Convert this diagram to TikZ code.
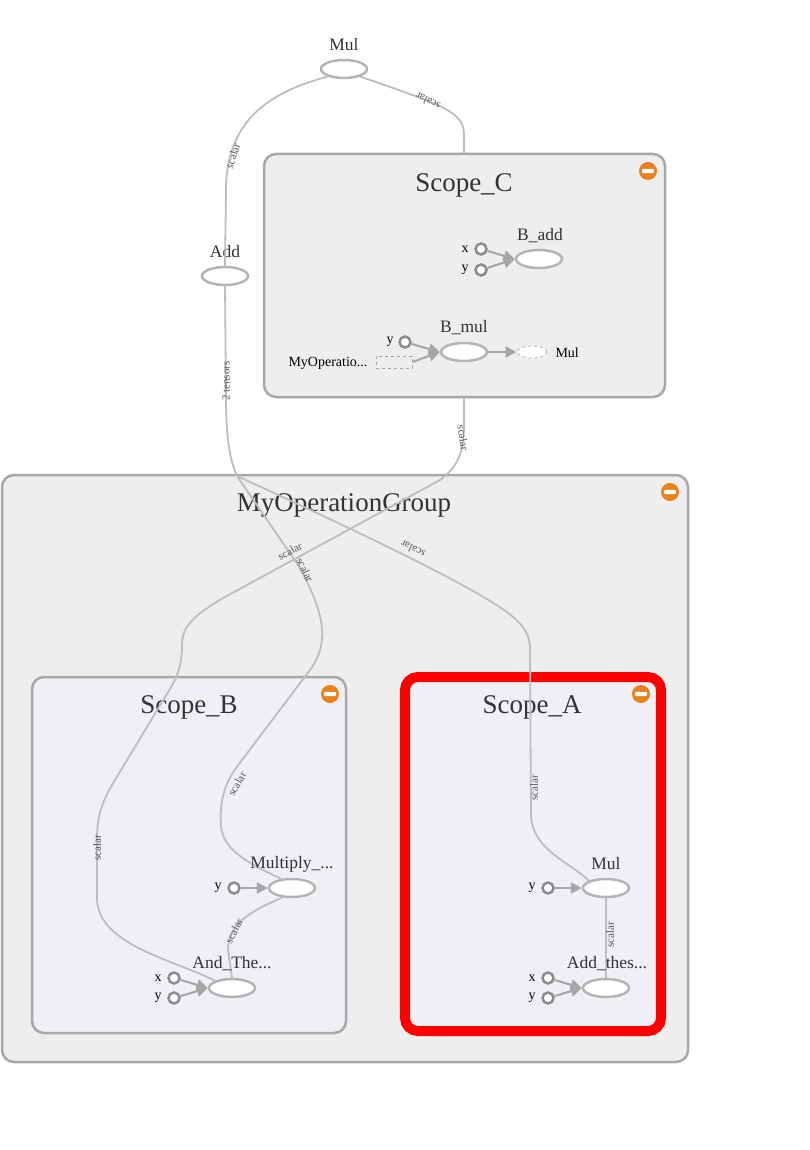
\documentclass[tikz,border=0pt]{standalone}
\usepackage{fontspec}
\setmainfont{Liberation Serif}
\usetikzlibrary{shapes.geometric,arrows.meta}
\definecolor{boxfill}{HTML}{EEEEEE}
\definecolor{scopefill}{HTML}{EEF0F5}
\definecolor{boxline}{HTML}{A8A8A8}
\definecolor{edgec}{HTML}{BDBDBD}
\definecolor{opline}{HTML}{B4B4B4}
\definecolor{inline}{HTML}{8C8C8C}
\definecolor{arrowc}{HTML}{A6A6A6}
\definecolor{iconc}{HTML}{E8811E}
\definecolor{titlec}{HTML}{333333}
\definecolor{lblc}{HTML}{555555}
\definecolor{hilite}{HTML}{FF0000}
\newcommand\collapseicon[2]{%
  \fill[iconc] (#1,#2) circle (9pt);
  \fill[white, rounded corners=1pt] (#1-6,#2-2.2) rectangle (#1+6,#2+2.2);}
\begin{document}
\begin{tikzpicture}[x=1pt,y=-1pt,
  group/.style={rectangle, draw=boxline, line width=2.5pt, fill=boxfill, rounded corners=12pt, inner sep=0pt},
  scopebox/.style={group, fill=scopefill},
  title/.style={text=titlec, font=\fontsize{27}{29}\selectfont},
  opnode/.style={ellipse, draw=opline, line width=2.5pt, fill=white, minimum width=46pt, minimum height=18pt, inner sep=0pt},
  oplabel/.style={text=titlec, font=\fontsize{17.5}{19}\selectfont},
  innode/.style={circle, draw=inline, line width=2.5pt, fill=white, minimum size=11pt, inner sep=0pt},
  inlabel/.style={text=black, font=\fontsize{14}{16}\selectfont},
  inarrow/.style={draw=arrowc, line width=2pt, -{Triangle[length=11pt,width=11pt]}},
  flow/.style={draw=edgec, line width=1.8pt},
  elabel/.style={text=lblc, font=\fontsize{11}{12}\selectfont, inner sep=0pt}]
\useasboundingbox (0,0) rectangle (809,1150);

% ---- groups ----
\node[group, minimum width=686pt, minimum height=587pt] (mog) at (345,768.5) {};
\node[group, minimum width=401pt, minimum height=243pt] (scopeC) at (464.5,275.5) {};
\node[scopebox, minimum width=314pt, minimum height=356pt] (scopeB) at (189,855) {};
\node[scopebox, draw=hilite, line width=10pt, rounded corners=13pt, minimum width=256pt, minimum height=354pt] (scopeA) at (533,854) {};

\node[title] (tC) at (464,185) {Scope\_C};
\node[title] (tG) at (344,505) {MyOperationGroup};
\node[title] (tB) at (189,707) {Scope\_B};
\node[title] (tA) at (532,707) {Scope\_A};
\collapseicon{648}{171}
\collapseicon{670}{492}
\collapseicon{330}{694}
\collapseicon{641}{694}

% ---- coordinates for edges ----
\coordinate (j1) at (237,476);
\coordinate (cT) at (464,153);
\coordinate (cB) at (464,398);

% ---- flow edges ----
\node[opnode] (mulTop) at (344,69) {};
\node[opnode] (add) at (225,276) {};
\node[oplabel] at (344,45) {Mul};
\node[oplabel] at (225,252) {Add};

\draw[flow] (add.north) -- (226,190) .. controls (226,120) and (270,92) .. (mulTop.205);
\draw[flow] (cT) -- (464,135) .. controls (464,112) and (445,106) .. (mulTop.335);
\draw[flow] (add.south) -- (226,395) .. controls (226,440) and (230,460) .. (j1);

% Ops inside scopes
\node[opnode] (mult) at (292,888) {};
\node[opnode] (andT) at (232,988) {};
\node[opnode] (mulA) at (606,888) {};
\node[opnode] (addA) at (606,988) {};

\draw[flow] (j1) .. controls (300,505) and (420,560) .. (480,595) .. controls (520,618) and (530,630) .. (530,650) -- (531,815) .. controls (532,850) and (570,862) .. (mulA.north west);
\draw[flow] (j1) -- (298,565) .. controls (322,608) and (332,640) .. (310,670) -- (236,768) .. controls (222,788) and (220,805) .. (221,825) .. controls (222,852) and (255,866) .. (mult.140);
\draw[flow] (cB) -- (464,425) .. controls (464,455) and (456,468) .. (440,480) -- (225,597) .. controls (188,618) and (182,630) .. (182,645) .. controls (182,668) and (176,680) .. (165,697) -- (112,785) .. controls (101,804) and (97,818) .. (97,840) -- (97,898) .. controls (97,945) and (175,960) .. (andT.north west);
\draw[flow] (mult.225) .. controls (248,912) and (228,925) .. (228,950) -- (andT.north);
\draw[flow] (mulA.south) -- (addA.north);

% edge labels
\node[elabel, rotate=155] at (428,101) {scalar};
\node[elabel, rotate=72] at (233,156) {scalar};
\node[elabel, rotate=90] at (226,381) {2 tensors};
\node[elabel, rotate=-82] at (463,438) {scalar};
\node[elabel, rotate=28] at (290,551) {scalar};
\node[elabel, rotate=-64] at (305,570) {scalar};
\node[elabel, rotate=155] at (413,549) {scalar};
\node[elabel, rotate=60] at (237,784) {scalar};
\node[elabel, rotate=90] at (97,848) {scalar};
\node[elabel, rotate=62] at (234,931) {scalar};
\node[elabel, rotate=90] at (534,788) {scalar};
\node[elabel, rotate=90] at (610,935) {scalar};

% ---- Scope_C contents ----
\node[opnode] (badd) at (539,259) {};
\node[oplabel] at (540,236) {B\_add};
\node[innode] (bx) at (481,249) {};
\node[innode] (by) at (481,270) {};
\node[inlabel] at (465,249) {x};
\node[inlabel] at (465,270) {y};
\draw[inarrow] (bx) -- (badd.west);
\draw[inarrow] (by) -- (badd.west);

\node[opnode] (bmul) at (464,352) {};
\node[oplabel] at (464,328) {B\_mul};
\node[innode] (bmy) at (405,342) {};
\node[inlabel] at (390,342) {y};
\node[draw=arrowc, dashed, line width=1pt, minimum width=36pt, minimum height=12pt, inner sep=0pt] (myop) at (394,362) {};
\node[inlabel, anchor=east] at (371,363) {MyOperatio...};
\node[ellipse, draw=edgec, dashed, line width=1pt, fill=white, minimum width=30pt, minimum height=12pt, inner sep=0pt] (mulout) at (532,352) {};
\node[inlabel, anchor=west] at (552,353) {Mul};
\draw[inarrow] (bmy) -- (bmul.west);
\draw[inarrow] (myop.east) -- (bmul.west);
\draw[inarrow] (bmul.east) -- (mulout.west);

% ---- Scope_B contents ----
\node[oplabel] at (292,864) {Multiply\_...};
\node[innode] (my) at (234,888) {};
\node[inlabel] at (218,888) {y};
\draw[inarrow] (my) -- (mult.west);
\node[oplabel] at (232,964) {And\_The...};
\node[innode] (ax) at (174,978) {};
\node[innode] (ay) at (174,998) {};
\node[inlabel] at (158,978) {x};
\node[inlabel] at (158,998) {y};
\draw[inarrow] (ax) -- (andT.west);
\draw[inarrow] (ay) -- (andT.west);

% ---- Scope_A contents ----
\node[oplabel] at (606,864) {Mul};
\node[innode] (ay2) at (548,888) {};
\node[inlabel] at (532,888) {y};
\draw[inarrow] (ay2) -- (mulA.west);
\node[oplabel] at (607,964) {Add\_thes...};
\node[innode] (aax) at (548,978) {};
\node[innode] (aay) at (548,998) {};
\node[inlabel] at (532,978) {x};
\node[inlabel] at (532,998) {y};
\draw[inarrow] (aax) -- (addA.west);
\draw[inarrow] (aay) -- (addA.west);
\end{tikzpicture}
\end{document}
